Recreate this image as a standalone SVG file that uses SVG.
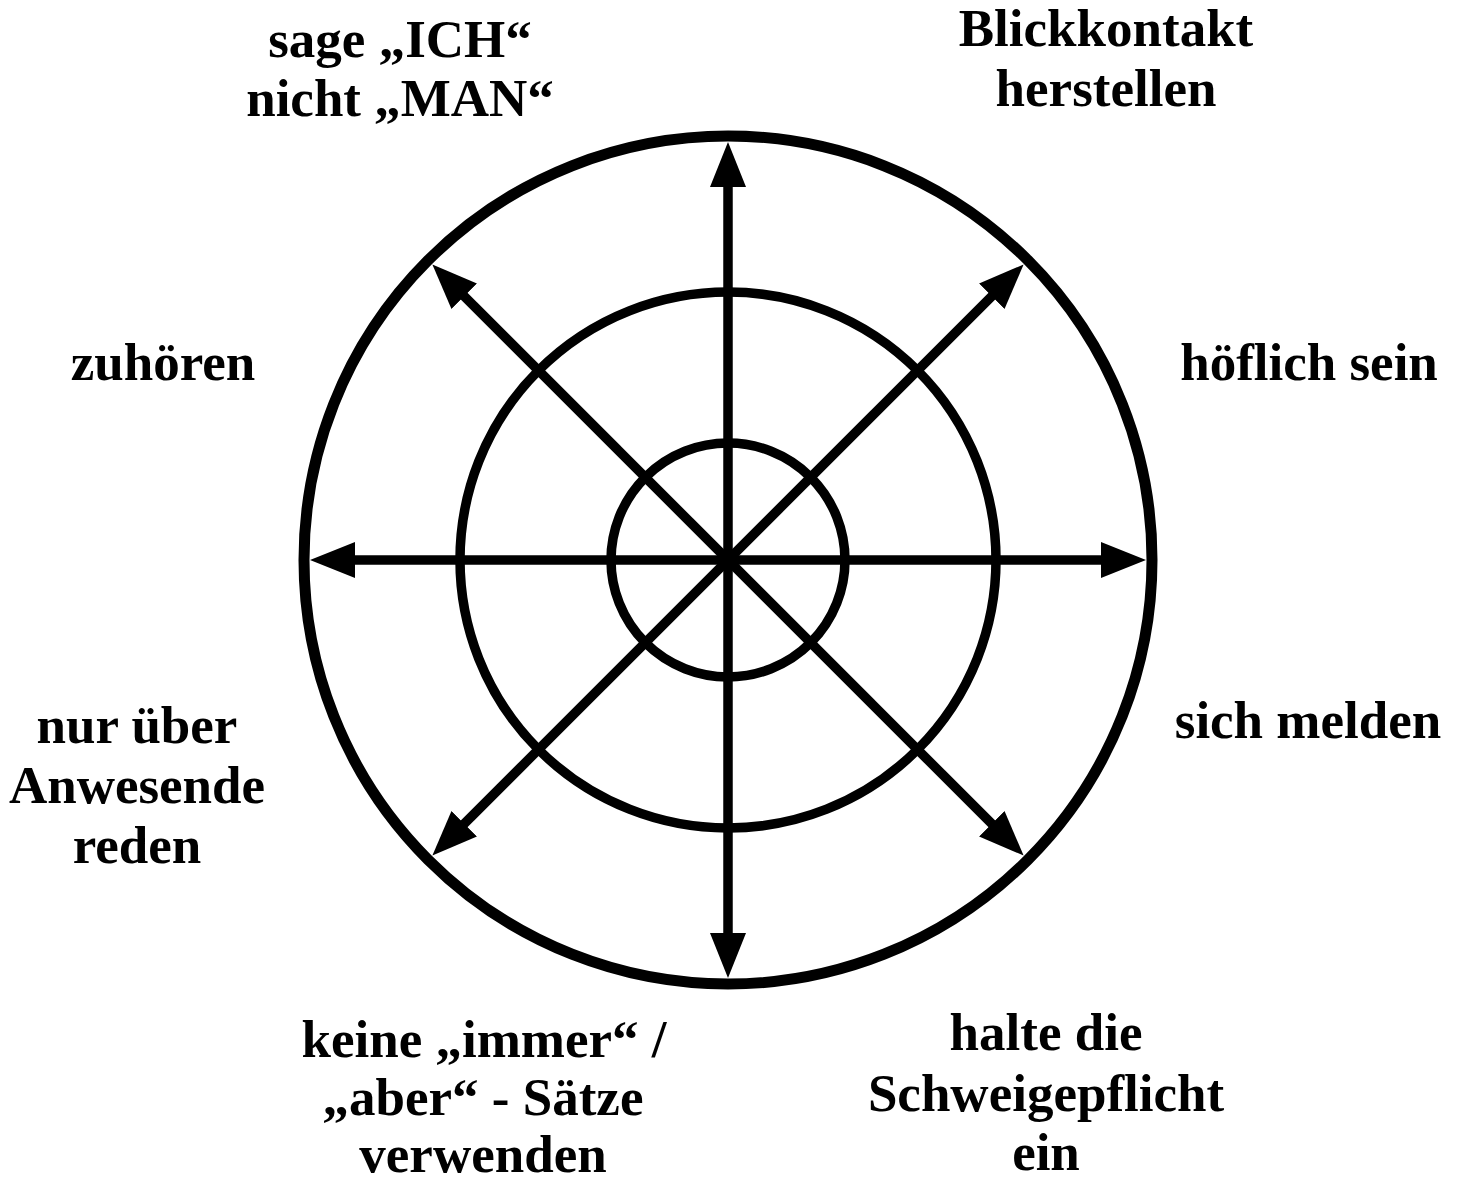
<svg xmlns="http://www.w3.org/2000/svg" width="1462" height="1182" viewBox="0 0 1462 1182">
<style>
.ring{fill:none;stroke:#000;}
.ax{stroke:#000;stroke-width:9.5;fill:none;marker-start:url(#ah);marker-end:url(#ah);}
.lbl{font-family:"Liberation Serif","Times New Roman",serif;font-weight:bold;font-size:53px;fill:#000;text-anchor:middle;}
</style>
<defs>
<marker id="ah" markerUnits="userSpaceOnUse" markerWidth="46" markerHeight="38" viewBox="0 0 46 38" refX="15" refY="19" orient="auto-start-reverse">
<path d="M0,1 L45,19 L0,37 z" fill="#000"/>
</marker>
</defs>
<rect width="1462" height="1182" fill="#fff"/>
<g id="rings">
<circle class="ring" cx="728" cy="560" r="424" stroke-width="11"/>
<circle class="ring" cx="728" cy="560" r="268" stroke-width="9.5"/>
<circle class="ring" cx="728" cy="560" r="117" stroke-width="9.5"/>
</g>
<g id="connectors">
<line class="ax" x1="728" y1="172" x2="728" y2="948"/>
<line class="ax" x1="340" y1="560" x2="1116" y2="560"/>
<line class="ax" x1="453.6" y1="285.6" x2="1002.4" y2="834.4"/>
<line class="ax" x1="1002.4" y1="285.6" x2="453.6" y2="834.4"/>
</g>
<g id="n-ich"><text class="lbl" x="400" y="57">sage „ICH“</text><text class="lbl" x="400" y="116">nicht „MAN“</text></g>
<g id="n-blick"><text class="lbl" x="1106" y="46">Blickkontakt</text><text class="lbl" x="1106" y="106">herstellen</text></g>
<g id="n-zuhoeren"><text class="lbl" x="163" y="380">zuhören</text></g>
<g id="n-hoeflich"><text class="lbl" x="1309" y="380">höflich sein</text></g>
<g id="n-melden"><text class="lbl" x="1308" y="738">sich melden</text></g>
<g id="n-anwesende"><text class="lbl" x="137" y="743">nur über</text><text class="lbl" x="137" y="803">Anwesende</text><text class="lbl" x="137" y="863">reden</text></g>
<g id="n-immer"><text class="lbl" x="484" y="1057">keine „immer“ /</text><text class="lbl" x="483" y="1115">„aber“ - Sätze</text><text class="lbl" x="483" y="1172">verwenden</text></g>
<g id="n-schweige"><text class="lbl" x="1046" y="1050">halte die</text><text class="lbl" x="1046" y="1111">Schweigepflicht</text><text class="lbl" x="1046" y="1170">ein</text></g>
</svg>
